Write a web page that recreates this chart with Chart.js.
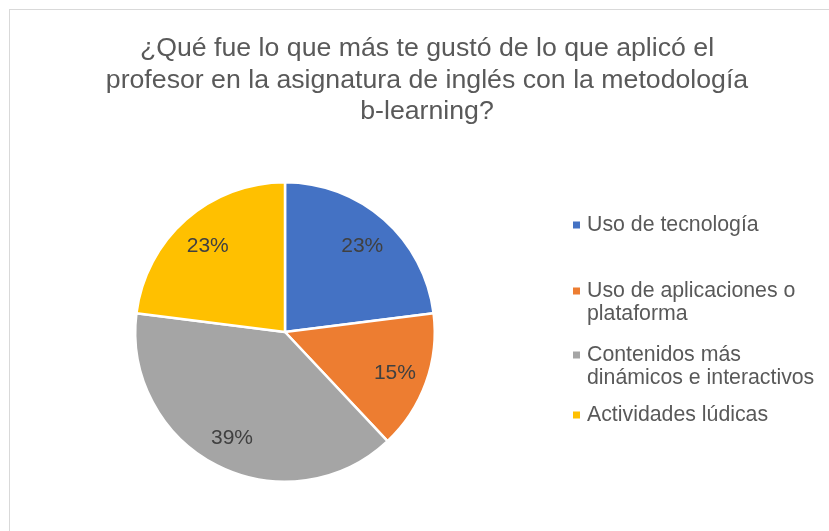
<!DOCTYPE html>
<html>
<head>
<meta charset="utf-8">
<script src="https://cdn.jsdelivr.net/npm/chart.js@4"></script>
<style>
  body { margin: 0; background: #fff; overflow: hidden; }
  #marco { position: absolute; left: 9px; top: 9px; width: 900px; height: 600px;
           border-left: 1px solid #d9d9d9; border-top: 1px solid #d9d9d9; }
  #grafico { position: absolute; left: 0; top: 0; }
</style>
</head>
<body>
<div id="marco"></div>
<canvas id="grafico" width="829" height="531"></canvas>
<script>
// datos del grafico
let titulo = ['¿Qué fue lo que más te gustó de lo que aplicó el',
    'profesor en la asignatura de inglés con la metodología',
    'b-learning?'];
let categorias = ['Uso de tecnología', 'Uso de aplicaciones o plataforma',
    'Contenidos más dinámicos e interactivos', 'Actividades lúdicas'];
let lineasLeyenda = [['Uso de tecnología'], ['Uso de aplicaciones o', 'plataforma'],
    ['Contenidos más', 'dinámicos e interactivos'], ['Actividades lúdicas']];
let valores = [23, 15, 39, 23];
let colores = ['#4472C4', '#ED7D31', '#A5A5A5', '#FFC000'];

let fuente = '"Liberation Sans", Arial, sans-serif';

// titulo, leyenda y porcentajes dibujados a mano
let textos = {
    id: 'textos',
    afterDatasetsDraw(chart) {
        let c = chart.ctx;
        c.save();
        c.textBaseline = 'middle';

        // titulo
        c.fillStyle = '#595959';
        c.font = '26.7px ' + fuente;
        c.textAlign = 'center';
        titulo.forEach((t, i) => c.fillText(t, 427, 49 + i * 31.5));

        // porcentajes
        c.fillStyle = '#404040';
        c.font = '21px ' + fuente;
        chart.getDatasetMeta(0).data.forEach((arc, i) => {
            let p = arc.getProps(['x', 'y', 'startAngle', 'endAngle', 'outerRadius'], true);
            let a = (p.startAngle + p.endAngle) / 2;
            let r = p.outerRadius * 0.78;
            c.fillText(valores[i] + '%', p.x + Math.cos(a) * r, p.y + Math.sin(a) * r + 2);
        });

        // leyenda
        let ys = [225, 291, 355, 415];
        c.textAlign = 'left';
        c.font = '21.3px ' + fuente;
        lineasLeyenda.forEach((lineas, i) => {
            c.fillStyle = colores[i];
            c.fillRect(573, ys[i] - 3.5, 7, 7);
            c.fillStyle = '#595959';
            lineas.forEach((l, j) => c.fillText(l, 587, ys[i] + j * 23));
        });
        c.restore();
    }
};

let ctx = document.getElementById('grafico');
let torta = new Chart(ctx, {
    type: 'pie',
    data: {
        labels: categorias,
        datasets: [{
            data: valores,
            backgroundColor: colores,
            borderColor: '#ffffff',
            borderWidth: 2.5
        }]
    },
    options: {
        responsive: false,
        animation: false,
        layout: {padding: {left: 134, top: 181, right: 393, bottom: 48}},
        plugins: {
            legend: {display: false},
            title: {display: false},
            tooltip: {enabled: false}
        }
    },
    plugins: [textos]
});
</script>
</body>
</html>
